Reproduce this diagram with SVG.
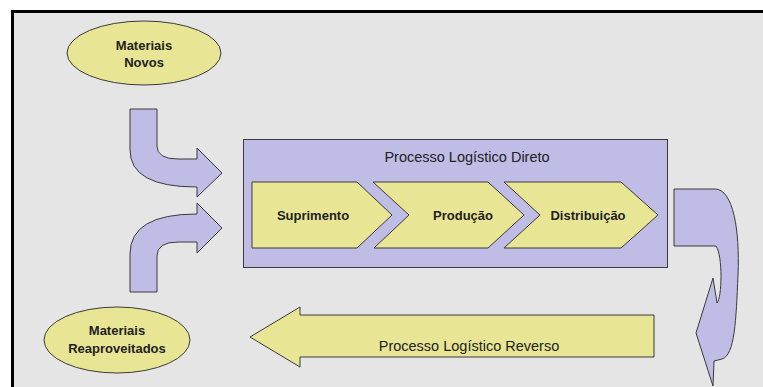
<svg xmlns="http://www.w3.org/2000/svg" width="763" height="387" viewBox="0 0 763 387">
<style>
.bg{fill:#e5e5e5;stroke:#000;stroke-width:3}
.y{fill:#e8e695;stroke:#3a3a3a;stroke-width:1}
.p{fill:#bfbde6;stroke:#3a3a3a;stroke-width:1}
.b{font-family:"Liberation Sans",Arial,sans-serif;font-weight:bold;font-size:13px;fill:#222;text-anchor:middle}
.r{font-family:"Liberation Sans",Arial,sans-serif;font-size:14.5px;fill:#222;text-anchor:middle}
</style>
<rect x="0" y="0" width="763" height="387" fill="#fff"/>
<rect class="bg" x="12.5" y="11.5" width="800" height="420"/>
<g id="connectors">
<path class="p" d="M130,109 L157,109 L157,146 Q157,159 178,159 L197,159 L197,148 L222,173 L197,197 L197,187 Q130,187 130,150 Z"/>
<path class="p" d="M130,292 L157,292 L157,256 Q157,242 178,242 L197,242 L197,253 L222,228 L197,203 L197,214 Q130,214 130,254 Z"/>
<path class="p" d="M674,189 L715,189 C733,189 740,230 738,275 C736,320 735,355 722,359 L714,361 L713,386 L696,333 L713,278 L717,303 C722,298 723,256 716,246 L674,246 Z"/>
</g>
<g id="materiais-novos">
<ellipse class="y" cx="144" cy="53" rx="77" ry="32"/>
<text class="b" x="144" y="50">Materiais</text>
<text class="b" x="144" y="67">Novos</text>
</g>
<g id="materiais-reaproveitados">
<ellipse class="y" cx="117" cy="340" rx="73" ry="33"/>
<text class="b" x="117" y="335">Materiais</text>
<text class="b" x="117" y="353">Reaproveitados</text>
</g>
<g id="processo-direto">
<rect class="p" x="243.5" y="139.5" width="424" height="128"/>
<text class="r" x="467" y="162">Processo Logístico Direto</text>
</g>
<g id="suprimento">
<path class="y" d="M252,182 L357,182 L392,215 L357,248 L252,248 Z"/>
<text class="b" x="313" y="220">Suprimento</text>
</g>
<g id="producao">
<path class="y" d="M373,182 L488,182 L524,215 L488,248 L374,248 L409,215 Z"/>
<text class="b" x="463" y="220">Produção</text>
</g>
<g id="distribuicao">
<path class="y" d="M504,182 L621,182 L658,215 L621,248 L504,248 L540,215 Z"/>
<text class="b" x="588" y="220">Distribuição</text>
</g>
<g id="processo-reverso">
<path class="y" d="M250,337 L300,307 L300,315 L654,315 L654,357 L300,357 L300,367 Z"/>
<text class="r" x="469" y="351">Processo Logístico Reverso</text>
</g>
</svg>
